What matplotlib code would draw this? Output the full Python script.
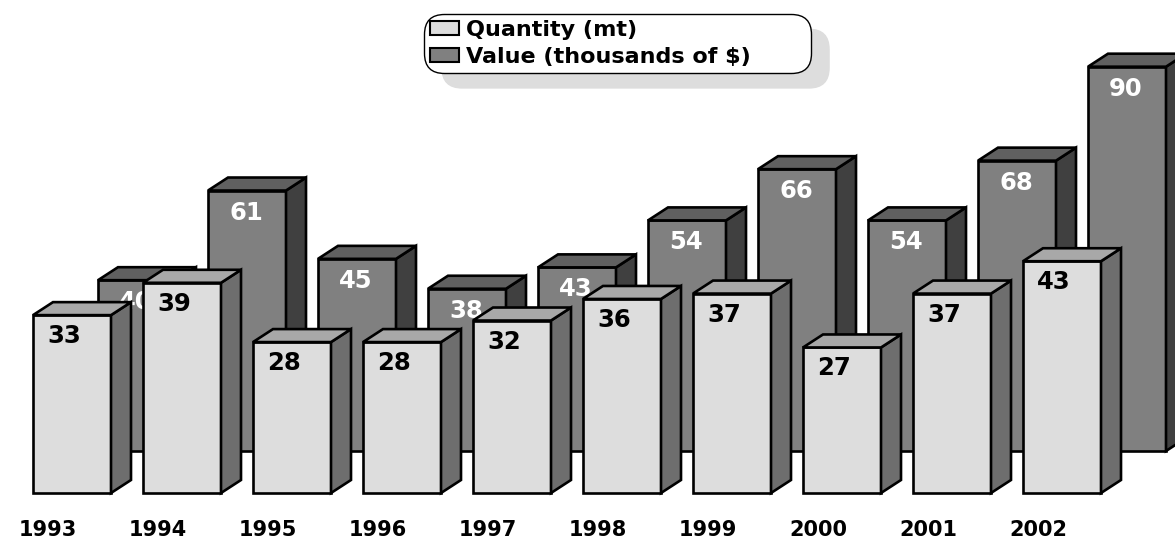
import matplotlib
matplotlib.use('Agg')
import matplotlib.pyplot as plt
from matplotlib.patches import Patch

years = ['1993', '1994', '1995', '1996', '1997', '1998', '1999', '2000', '2001', '2002']
quantity = [33, 39, 28, 28, 32, 36, 37, 27, 37, 43]
value = [40, 61, 45, 38, 43, 54, 66, 54, 68, 90]

W, H = 1175, 540
PX_X = 110.0      # px per category
X0 = 72.0         # px centre of first front bar
BAR_W = 78 / PX_X
DX, DY = 20, 13   # depth of the 3d look, px

plt.rcParams['font.family'] = 'DejaVu Sans'
plt.rcParams['font.weight'] = 'bold'

fig = plt.figure(figsize=(W / 100, H / 100), dpi=100)


def make_axes(base_px, px_per_unit, z):
    ax = fig.add_axes([0, 0, 1, 1], zorder=z)
    ax.set_xlim(-X0 / PX_X, (W - X0) / PX_X)
    ax.set_ylim((base_px - H) / px_per_unit, base_px / px_per_unit)
    ax.axis('off')
    return ax


def bars_3d(ax, xs, vals, px_per_unit, front, side, top, text_col, label_dx, label_dy):
    dx = DX / PX_X
    dy = DY / px_per_unit
    for x, v in zip(xs, vals):
        l, r = x - BAR_W / 2, x + BAR_W / 2
        kw = dict(edgecolor='black', linewidth=1.9, joinstyle='miter')
        ax.bar(x, v, width=BAR_W, color=front, **kw)
        ax.fill([r, r + dx, r + dx, r], [0, dy, v + dy, v], facecolor=side, **kw)
        ax.fill([l, l + dx, r + dx, r], [v, v + dy, v + dy, v], facecolor=top, **kw)
        ax.text(x + label_dx / PX_X, v - label_dy / px_per_unit, str(v), color=text_col,
                fontsize=17.5, fontweight='bold', ha='center', va='center')


ax_v = make_axes(451, 4.27, 1)
ax_q = make_axes(493, 5.39, 2)

xs = list(range(len(years)))
bars_3d(ax_v, [x + 65 / PX_X for x in xs], value, 4.27,
        '#808080', '#404040', '#606060', 'white', -1, 22)
bars_3d(ax_q, xs, quantity, 5.39,
        '#dddddd', '#6e6e6e', '#a8a8a8', 'black', -8, 21)

for x, y in zip(xs, years):
    ax_q.text(x - 24 / PX_X, (493 - 530) / 5.39, y, fontsize=15, fontweight='bold',
              ha='center', va='center', color='black')

handles = [Patch(facecolor='#dddddd', edgecolor='black', linewidth=1.5),
           Patch(facecolor='#808080', edgecolor='black', linewidth=1.5)]
leg = fig.legend(handles, ['Quantity (mt)', 'Value (thousands of $)'],
                 loc='upper left', bbox_to_anchor=(424 / W, 1 - 72 / H, 387 / W, 58 / H),
                 mode='expand', borderaxespad=0,
                 fontsize=16, handlelength=1.3, handleheight=0.55, handletextpad=0.3,
                 labelspacing=0.3, borderpad=0.27, framealpha=1, facecolor='white',
                 edgecolor='black', fancybox=True,
                 shadow={'color': '#dddddd', 'alpha': 1, 'ox': 13, 'oy': -11})
leg.get_frame().set_linewidth(1.0)
leg.get_frame().set_boxstyle('round', pad=0, rounding_size=0.9)

fig.savefig('out.png', dpi=100)
